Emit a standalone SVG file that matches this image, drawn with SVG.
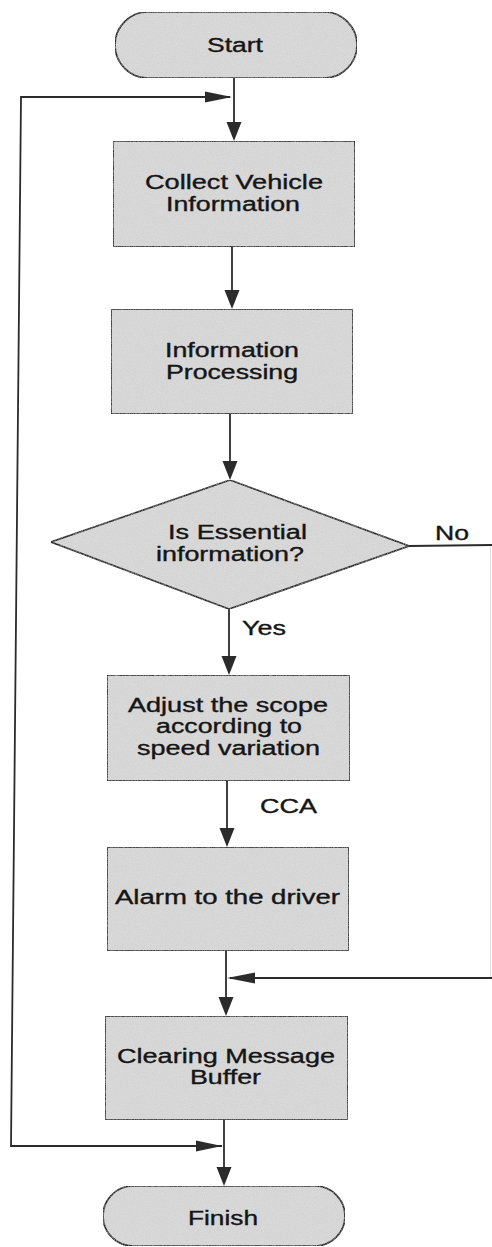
<svg xmlns="http://www.w3.org/2000/svg" width="492" height="1247" viewBox="0 0 492 1247">
  <defs>
    <style>
      .shape { fill: #d9d9d9; stroke: #2b2b2b; stroke-width: 1.7; filter: url(#grain); }
      .lbl { font-family: "Liberation Sans", Arial, sans-serif; font-size: 19.5px; fill: #151515; stroke: #151515; stroke-width: 0.35; text-anchor: start; }
      .flow { fill: none; stroke: #2b2b2b; stroke-width: 1.8; }
      .faint { fill: none; stroke: #e2e2e2; stroke-width: 1; }
      .head { fill: #2b2b2b; }
    </style>
    <!-- speckled paper texture for the shape fills -->
    <filter id="grain" x="0" y="0" width="100%" height="100%">
      <feTurbulence type="fractalNoise" baseFrequency="0.9" numOctaves="2" seed="3" result="n"/>
      <feColorMatrix in="n" type="matrix" values="0 0 0 0 0.55  0 0 0 0 0.55  0 0 0 0 0.55  0 0 0 0.9 -0.35" result="dots"/>
      <feComposite in="dots" in2="SourceGraphic" operator="in" result="inside"/>
      <feMerge>
        <feMergeNode in="SourceGraphic"/>
        <feMergeNode in="inside"/>
      </feMerge>
    </filter>
  </defs>

  <rect width="492" height="1247" fill="#ffffff"/>

  <!-- connectors -->
  <g id="connectors">
    <!-- main spine -->
    <path class="flow" d="M234 78 V135"/>
    <path class="flow" d="M232 247 V303"/>
    <path class="flow" d="M230 414 V474"/>
    <path class="flow" d="M229 609 V669"/>
    <path class="flow" d="M227 781 V841"/>
    <path class="flow" d="M226 951 V1010"/>
    <path class="flow" d="M224 1120 V1180"/>
    <!-- loop back from the bottom to the top -->
    <path class="flow" d="M222 1146 H11 L21 97 H230"/>
    <!-- "No" branch returning above the buffer clearing step -->
    <path class="flow" d="M409 546 L492 545"/>
    <path class="faint" d="M490.5 546 V978"/>
    <path class="flow" d="M492 978 H230"/>

    <!-- arrowheads -->
    <polygon class="head" points="226.5,122 241.5,122 234,141"/>
    <polygon class="head" points="224.5,290 239.5,290 232,309"/>
    <polygon class="head" points="222.5,461 237.5,461 230,480"/>
    <polygon class="head" points="221.5,656 236.5,656 229,675"/>
    <polygon class="head" points="219.5,828 234.5,828 227,847"/>
    <polygon class="head" points="218.5,997 233.5,997 226,1016"/>
    <polygon class="head" points="216.5,1167 231.5,1167 224,1186"/>
    <polygon class="head" points="205,91.5 205,102.5 232,97"/>
    <polygon class="head" points="196,1140.5 196,1151.5 222,1146"/>
    <polygon class="head" points="255,972.5 255,983.5 227,978"/>
  </g>

  <!-- nodes -->
  <g id="start">
    <rect class="shape" x="115" y="12" width="242" height="66" rx="33" ry="33"/>
    <text class="lbl" x="207" y="52" textLength="56" lengthAdjust="spacingAndGlyphs">Start</text>
  </g>

  <g id="collect">
    <rect class="shape" x="113" y="141" width="242" height="106"/>
    <text class="lbl" x="145" y="189" textLength="178" lengthAdjust="spacingAndGlyphs">Collect Vehicle</text>
    <text class="lbl" x="166" y="211" textLength="134" lengthAdjust="spacingAndGlyphs">Information</text>
  </g>

  <g id="processing">
    <rect class="shape" x="111" y="309" width="242" height="105"/>
    <text class="lbl" x="165" y="357" textLength="134" lengthAdjust="spacingAndGlyphs">Information</text>
    <text class="lbl" x="166" y="379" textLength="132" lengthAdjust="spacingAndGlyphs">Processing</text>
  </g>

  <g id="decision">
    <polygon class="shape" points="51,542 230,480 409,546 229,609"/>
    <text class="lbl" x="168" y="539" textLength="139" lengthAdjust="spacingAndGlyphs">Is Essential</text>
    <text class="lbl" x="156" y="561" textLength="148" lengthAdjust="spacingAndGlyphs">information?</text>
    <text class="lbl" x="435" y="540" textLength="34" lengthAdjust="spacingAndGlyphs">No</text>
    <text class="lbl" x="242" y="635" textLength="44" lengthAdjust="spacingAndGlyphs">Yes</text>
  </g>

  <g id="adjust">
    <rect class="shape" x="107" y="675" width="243" height="106"/>
    <text class="lbl" x="128" y="712" textLength="200" lengthAdjust="spacingAndGlyphs">Adjust the scope</text>
    <text class="lbl" x="156" y="733" textLength="146" lengthAdjust="spacingAndGlyphs">according to</text>
    <text class="lbl" x="137" y="755" textLength="183" lengthAdjust="spacingAndGlyphs">speed variation</text>
    <text class="lbl" x="260" y="813" textLength="57" lengthAdjust="spacingAndGlyphs">CCA</text>
  </g>

  <g id="alarm">
    <rect class="shape" x="107" y="847" width="242" height="104"/>
    <text class="lbl" x="115" y="904" textLength="225" lengthAdjust="spacingAndGlyphs">Alarm to the driver</text>
  </g>

  <g id="clearing">
    <rect class="shape" x="105" y="1016" width="243" height="104"/>
    <text class="lbl" x="117" y="1063" textLength="218" lengthAdjust="spacingAndGlyphs">Clearing Message</text>
    <text class="lbl" x="190" y="1084" textLength="71" lengthAdjust="spacingAndGlyphs">Buffer</text>
  </g>

  <g id="finish">
    <rect class="shape" x="103" y="1186" width="242" height="60" rx="30" ry="30"/>
    <text class="lbl" x="188" y="1225" textLength="70" lengthAdjust="spacingAndGlyphs">Finish</text>
  </g>
</svg>
